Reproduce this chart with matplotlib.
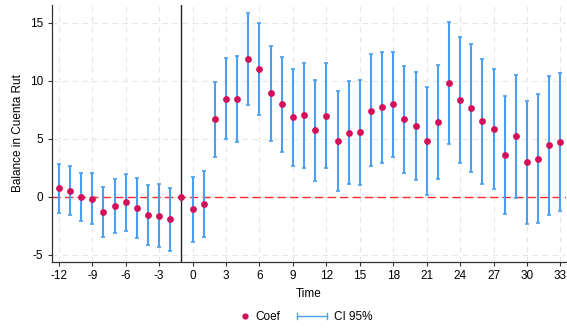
import matplotlib
matplotlib.use("Agg")
import matplotlib.pyplot as plt
from matplotlib.lines import Line2D
from matplotlib.legend_handler import HandlerBase
import numpy as np

plt.rcParams['font.family'] = ['Liberation Sans', 'DejaVu Sans']
plt.rcParams['axes.unicode_minus'] = False

time = list(range(-12, 34))
coef = [0.72, 0.49, -0.06, -0.17, -1.29, -0.83, -0.48, -0.95, -1.58, -1.66, -1.95, 0.0,
        -1.09, -0.63, 6.67, 8.45, 8.40, 11.87, 11.00, 8.91, 7.97, 6.84, 7.01, 5.75,
        6.98, 4.80, 5.52, 5.55, 7.41, 7.73, 7.97, 6.67, 6.12, 4.80, 6.44, 9.83,
        8.34, 7.65, 6.50, 5.86, 3.57, 5.21, 2.97, 3.28, 4.43, 4.69]
ci_hi = [2.82, 2.65, 2.04, 2.07, 0.86, 1.50, 2.00, 1.61, 1.00, 1.07, 0.78, None,
         1.70, 2.19, 9.91, 11.96, 12.13, 15.86, 14.97, 13.02, 12.04, 11.00, 11.55, 10.06,
         11.53, 9.14, 9.95, 10.06, 12.28, 12.50, 12.47, 11.24, 10.78, 9.46, 11.35, 15.03,
         13.77, 13.16, 11.90, 11.03, 8.68, 10.49, 8.25, 8.83, 10.43, 10.63]
ci_lo = [-1.38, -1.58, -2.12, -2.38, -3.45, -3.10, -2.93, -3.53, -4.19, -4.36, -4.68, None,
         -3.88, -3.50, 3.45, 4.97, 4.69, 7.88, 7.01, 4.80, 3.88, 2.67, 2.50, 1.38,
         2.47, 0.47, 1.09, 1.01, 2.65, 2.93, 3.45, 2.04, 1.47, 0.15, 1.53, 4.57,
         2.91, 2.13, 1.12, 0.69, -1.52, -0.11, -2.33, -2.29, -1.58, -1.23]
xticks = list(range(-12, 34, 3))
yticks = [-5, 0, 5, 10, 15]

blue = '#4a9ff0'
red_pt = '#d3105a'


class CapLineHandler(HandlerBase):
    def create_artists(self, legend, orig_handle, xdescent, ydescent, width, height, fontsize, trans):
        y = height / 2 - ydescent
        x0, x1 = -xdescent, width - xdescent
        c = 2.2
        arts = [Line2D([x0, x1], [y, y], color=blue, linewidth=1.0),
                Line2D([x0, x0], [y - c, y + c], color=blue, linewidth=1.0),
                Line2D([x1, x1], [y - c, y + c], color=blue, linewidth=1.0)]
        for a in arts:
            a.set_transform(trans)
        return arts


fig = plt.figure(figsize=(5.67, 3.30), dpi=100)
ax = fig.add_axes([51.5/567, 1 - 262/330, (566 - 51.5)/567, (262 - 4.7)/330])

ax.set_xlim(-12.66, 33.5)
ax.set_ylim((196.7 - 262) / 11.6, (196.7 - 4.7) / 11.6)

ax.set_xticks(xticks)
ax.set_yticks(yticks)
ax.grid(True, color='#e6e6e6', linestyle=(0, (5, 4)), linewidth=0.8)
ax.set_axisbelow(True)

for s in ['top', 'right']:
    ax.spines[s].set_visible(False)
for s in ['left', 'bottom']:
    ax.spines[s].set_color('#333333')
    ax.spines[s].set_linewidth(0.9)

ax.tick_params(axis='both', labelsize=8.5, length=3, width=0.8, color='#333333', pad=3)

ax.axhline(0, color='#ff2a2a', linestyle=(0, (6, 3)), linewidth=1.0, zorder=1)
ax.axvline(-1, color='#222222', linewidth=1.0, zorder=1)

ts = [t for t, h in zip(time, ci_hi) if h is not None]
hs = [h for h in ci_hi if h is not None]
ls = [l for l in ci_lo if l is not None]
ax.vlines(ts, ls, hs, color=blue, linewidth=1.5, zorder=2)
ax.hlines(hs, np.array(ts) - 0.18, np.array(ts) + 0.18, color=blue, linewidth=1.2, zorder=2)
ax.hlines(ls, np.array(ts) - 0.18, np.array(ts) + 0.18, color=blue, linewidth=1.2, zorder=2)
ax.scatter(time, coef, s=24, color=red_pt, zorder=3, linewidths=0)

ax.set_xlabel('Time', fontsize=8.5, labelpad=4)
ax.set_ylabel('Balance in Cuenta Rut', fontsize=8.5, labelpad=4)

h1 = Line2D([], [], marker='o', linestyle='none', color=red_pt, markersize=4.5, markeredgewidth=0)
h2 = Line2D([], [], color=blue)
fig.legend([h1], ['Coef'], loc='center', bbox_to_anchor=(260/567, 1 - 317/330),
           frameon=False, fontsize=8.5, handlelength=0.8, handletextpad=0.5)
fig.legend([h2], ['CI 95%'], loc='center', bbox_to_anchor=(335/567, 1 - 317/330),
           frameon=False, fontsize=8.5, handlelength=2.5, handletextpad=0.6,
           handler_map={h2: CapLineHandler()})

fig.savefig('out.png', dpi=100)
